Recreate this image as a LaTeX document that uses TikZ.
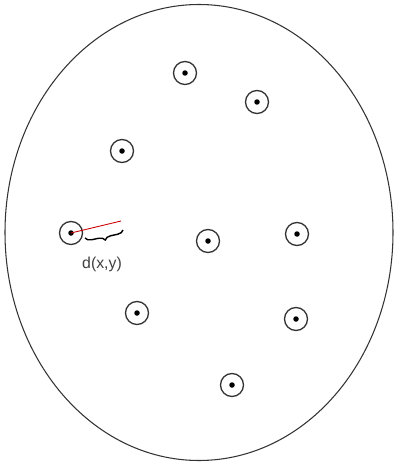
\documentclass[tikz,border=0pt]{standalone}
\usepackage{fontspec}
\setmainfont{Liberation Sans}
\usetikzlibrary{arrows.meta, decorations.pathreplacing}

\begin{document}
\begin{tikzpicture}[x=0.02cm, y=-0.02cm, line width=0.6pt,
    pt/.style={circle, draw=black!80, line width=0.75pt, minimum size=0.46cm, inner sep=0pt},
    dot/.style={circle, fill=black, minimum size=0.11cm, inner sep=0pt}]
            \useasboundingbox (0,0) rectangle (397,466);
            \draw[black!80] (199,232.5) ellipse [x radius=194, y radius=228];
            % the points
            \foreach \n/\x/\y in {a/185/73, b/257/102, c/122/151, d/71/233, e/208/241,
                                  f/297/234, g/137/313, h/296/319, i/232/385} {
                \node[pt] (\n) at (\x,\y) {};
                \node[dot] (\n d) at (\x,\y) {};
            }
            % distance
            \coordinate (tip) at (121,221);
            \draw[red!80!black, line width=0.5pt] (dd.center) -- (tip);
            \draw[decorate, decoration={brace, amplitude=3.5pt, mirror}, line width=0.8pt] (85,238) -- (123,230);
            \node[text=black!75, font=\small] (dist) at (102,264) {d(x,y)};
        \end{tikzpicture}
\end{document}
